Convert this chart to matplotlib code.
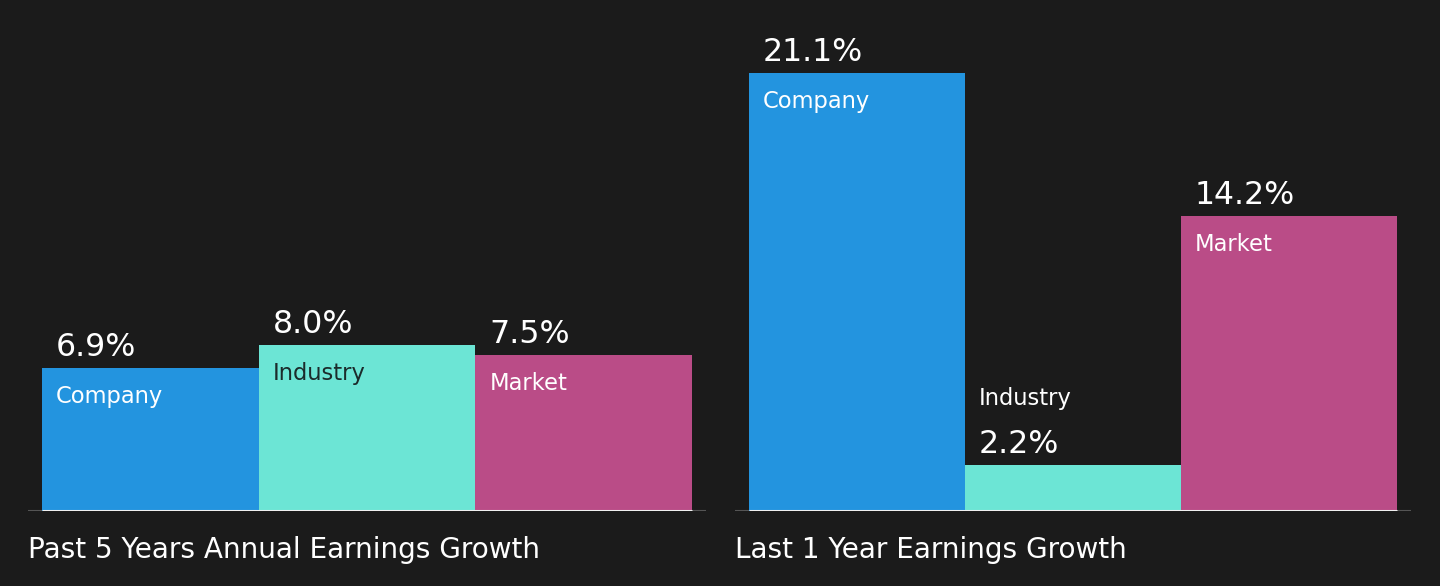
import matplotlib
matplotlib.use("Agg")
import matplotlib.pyplot as plt

BG = "#1b1b1b"

categories = ["Company", "Industry", "Market"]
colors = ["#2394df", "#6ce5d5", "#ba4c87"]
past5_values = [6.9, 8.0, 7.5]
last1_values = [21.1, 2.2, 14.2]
titles = ["Past 5 Years Annual Earnings Growth", "Last 1 Year Earnings Growth"]

W, H, DPI = 1440, 586, 100
PX_PER_PCT = 20.76      # vertical scale shared by both panels
BASE_Y = 511            # baseline, px from top
PAD_PX = 14


def px(p):
    return p * 72 / DPI   # px -> points


fig = plt.figure(figsize=(W / DPI, H / DPI), dpi=DPI, facecolor=BG)


def panel(left_px, bar_px, values, title):
    width_px = 3 * bar_px + 2 * PAD_PX
    ax = fig.add_axes([left_px / W, (H - BASE_Y) / H, width_px / W, BASE_Y / H])
    ax.set_facecolor(BG)
    ax.set_axis_off()
    margin = PAD_PX / bar_px
    ax.set_xlim(-0.5 - margin, 2.5 + margin)
    ax.set_ylim(0, BASE_Y / PX_PER_PCT)

    ax.axhline(0, color="#555555", lw=1.5, zorder=1)
    xs = range(len(values))
    ax.bar(xs, values, width=1.0, color=colors, zorder=2)
    ax.hlines(0, -0.5, 2.5, color="#f0f0f0", lw=2.2, zorder=3)

    for i, (cat, v) in enumerate(zip(categories, values)):
        x0 = i - 0.5
        tall = v * PX_PER_PCT > 60
        label_color = "#1b2b2b" if (cat == "Industry" and tall) else "white"
        ax.annotate(f"{v:.1f}%", (x0, v), xytext=(px(PAD_PX), px(12)),
                    textcoords="offset points", ha="left", va="baseline",
                    color="white", fontsize=22.8, zorder=4)
        if tall:
            ax.annotate(cat, (x0, v), xytext=(px(PAD_PX), -px(35)),
                        textcoords="offset points", ha="left", va="baseline",
                        color=label_color, fontsize=16.3, zorder=4)
        else:
            ax.annotate(cat, (x0, v), xytext=(px(PAD_PX), px(60)),
                        textcoords="offset points", ha="left", va="baseline",
                        color="white", fontsize=16.3, zorder=4)

    fig.text(left_px / W, (H - 558) / H, title, ha="left", va="baseline",
             color="white", fontsize=20.1)


panel(28, 216.7, past5_values, titles[0])
panel(735, 216.0, last1_values, titles[1])

fig.savefig("out.png", dpi=DPI, facecolor=BG)
